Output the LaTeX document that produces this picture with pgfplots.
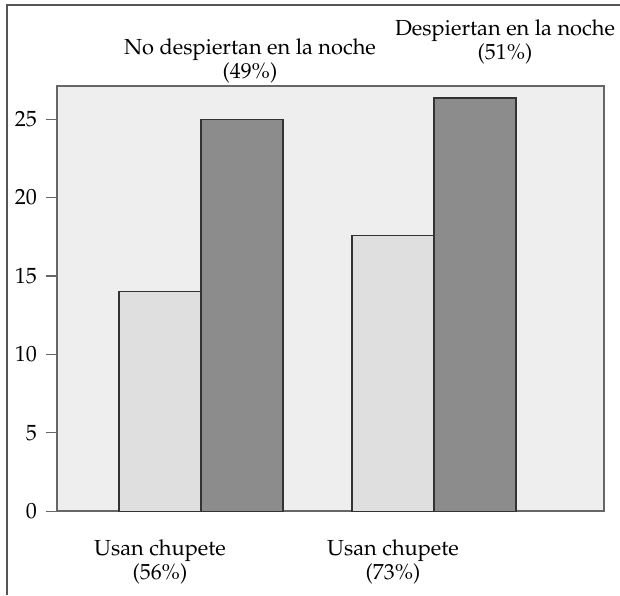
\documentclass[border=0pt]{standalone}
\usepackage[T1]{fontenc}
\usepackage{mathpazo}
\usepackage{pgfplots}
\pgfplotsset{compat=1.18}
\definecolor{bgc}{HTML}{EEEEEE}
\definecolor{lightbar}{HTML}{DFDFDF}
\definecolor{darkbar}{HTML}{8C8C8C}
\definecolor{axc}{HTML}{666666}
\definecolor{framec}{HTML}{555555}
\begin{document}
\begin{tikzpicture}
  \begin{axis}[
      scale only axis,
      width=273.5pt, height=212.5pt,
      xmin=57, xmax=604,
      ymin=0, ymax=27.1,
      axis background/.style={fill=bgc},
      axis line style={draw=axc, line width=0.8pt},
      xtick=\empty,
      ytick={0,5,10,15,20,25},
      ytick pos=left,
      tick align=outside,
      major tick length=5.5pt,
      tick style={draw=axc, line width=0.6pt},
      yticklabel style={font=\fontsize{11}{12}\selectfont, xshift=-1pt},
      /pgf/number format/assume math mode=true,
      ybar, bar width=82, bar shift=0pt,
      clip=false,
    ]
    \addplot[fill=lightbar, draw=black!80, line width=0.6pt]
      coordinates {(160,14) (393,17.6)};
    \addplot[fill=darkbar, draw=black!80, line width=0.6pt]
      coordinates {(242,25) (475,26.35)};
    \node[align=center, font=\fontsize{10.9}{10.8}\selectfont]
      at (axis cs:250,28.7) {No despiertan en la noche\\(49\%)};
    \node[align=center, font=\fontsize{10.9}{10.8}\selectfont]
      at (axis cs:505,29.9) {Despiertan en la noche\\(51\%)};
    \node[align=center, font=\fontsize{10.9}{10.8}\selectfont]
      at (axis cs:160,-3.25) {Usan chupete\\(56\%)};
    \node[align=center, font=\fontsize{10.9}{10.8}\selectfont]
      at (axis cs:393,-3.25) {Usan chupete\\(73\%)};
    \coordinate (bl) at (axis cs:7,-5.36);
    \coordinate (tl) at (axis cs:7,32.27);
    \coordinate (tr) at (axis cs:620,32.27);
    \coordinate (bbl) at (axis cs:0,-5.36);
    \coordinate (btr) at (axis cs:620,32.6);
  \end{axis}
  \draw[framec, line width=1pt] (bl) -- (tl) -- (tr);
  \pgfresetboundingbox
  \path[use as bounding box] (bbl) rectangle (btr);
\end{tikzpicture}
\end{document}
